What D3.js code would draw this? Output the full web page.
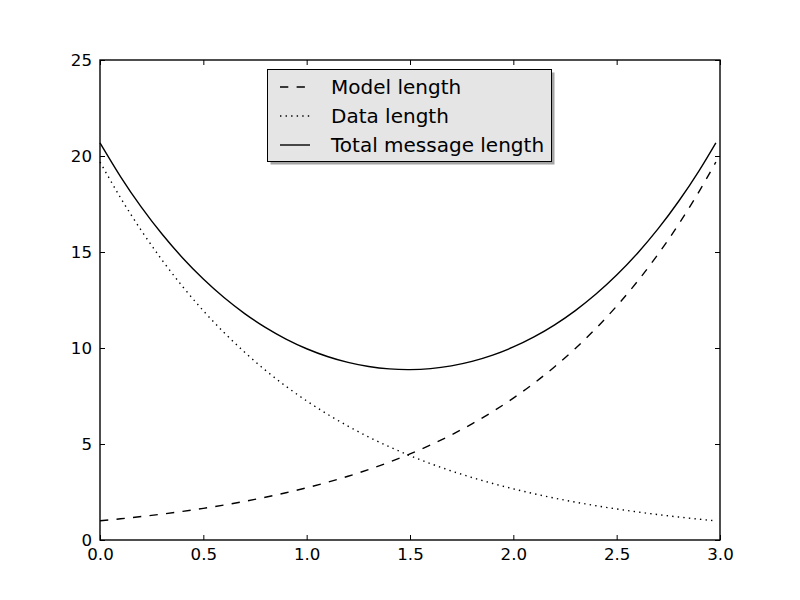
<!DOCTYPE html>
<html>
<head>
<meta charset="utf-8">
<script src="https://cdn.jsdelivr.net/npm/d3@7"></script>
<style>
  html, body { margin: 0; padding: 0; background: #fff; }
  svg { display: block; font-family: "DejaVu Sans", sans-serif; }
</style>
</head>
<body>
<svg id="chart" width="800" height="600"></svg>
<script>
// ---- data ----
const xValues = [0.0, 0.1, 0.2, 0.3, 0.4, 0.5, 0.6, 0.7, 0.8, 0.9, 1.0, 1.1, 1.2, 1.3, 1.4, 1.5,
  1.6, 1.7, 1.8, 1.9, 2.0, 2.1, 2.2, 2.3, 2.4, 2.5, 2.6, 2.7, 2.8, 2.9, 2.98];
const modelLength = [1.000, 1.105, 1.221, 1.350, 1.492, 1.649, 1.822, 2.014, 2.226, 2.460, 2.718,
  3.004, 3.320, 3.669, 4.055, 4.482, 4.953, 5.474, 6.050, 6.686, 7.389, 8.166, 9.025, 9.974,
  11.023, 12.182, 13.464, 14.880, 16.445, 18.174, 19.688];
const dataLength = [19.688, 17.814, 16.119, 14.585, 13.197, 11.941, 10.805, 9.777, 8.846, 8.004,
  7.243, 6.554, 5.930, 5.366, 4.855, 4.393, 3.975, 3.597, 3.254, 2.945, 2.664, 2.411, 2.181,
  1.974, 1.786, 1.616, 1.462, 1.323, 1.197, 1.083, 1.000];
const totalLength = [20.688, 18.919, 17.340, 15.935, 14.689, 13.590, 12.627, 11.791, 11.072,
  10.464, 9.961, 9.558, 9.250, 9.035, 8.910, 8.875, 8.928, 9.071, 9.304, 9.631, 10.053, 10.577,
  11.206, 11.948, 12.809, 13.798, 14.926, 16.203, 17.642, 19.257, 20.688];
const seriesNames = ["Model length", "Data length", "Total message length"];
const xTicks = [0.0, 0.5, 1.0, 1.5, 2.0, 2.5, 3.0];
const yTicks = [0, 5, 10, 15, 20, 25];

// ---- layout ----
const svg = d3.select("#chart");
const mLeft = 100, mRight = 720, mTop = 60, mBottom = 540;
const lineW = 1.39;
const x = d3.scaleLinear().domain([0, 3]).range([mLeft, mRight]);
const y = d3.scaleLinear().domain([0, 25]).range([mBottom, mTop]);

const series = [
  { name: seriesNames[0], values: modelLength, dash: "8.3,8.3" },
  { name: seriesNames[1], values: dataLength, dash: "1.39,4.17" },
  { name: seriesNames[2], values: totalLength, dash: null }
];

const line = d3.line()
  .x((d, i) => x(xValues[i]))
  .y(d => y(d))
  .curve(d3.curveNatural);

const plot = svg.append("g");
series.forEach(s => {
  plot.append("path")
    .attr("d", line(s.values))
    .attr("fill", "none")
    .attr("stroke", "#000")
    .attr("stroke-width", lineW)
    .attr("stroke-dasharray", s.dash);
});

// ---- axes (ticks inside, all four sides) ----
const fmtX = d3.format(".1f");
const axB = svg.append("g").attr("transform", `translate(0,${mBottom})`)
  .call(d3.axisBottom(x).tickValues(xTicks).tickFormat(fmtX).tickSizeInner(-5).tickSizeOuter(0).tickPadding(8));
const axT = svg.append("g").attr("transform", `translate(0,${mTop})`)
  .call(d3.axisTop(x).tickValues(xTicks).tickFormat("").tickSizeInner(-5).tickSizeOuter(0));
const axL = svg.append("g").attr("transform", `translate(${mLeft},0)`)
  .call(d3.axisLeft(y).tickValues(yTicks).tickFormat(d3.format("d")).tickSizeInner(-5).tickSizeOuter(0).tickPadding(8));
const axR = svg.append("g").attr("transform", `translate(${mRight},0)`)
  .call(d3.axisRight(y).tickValues(yTicks).tickFormat("").tickSizeInner(-5).tickSizeOuter(0));

[axB, axT, axL, axR].forEach(a => {
  a.select(".domain").remove();
  a.selectAll("line").attr("stroke", "#000").attr("stroke-width", 1);
  a.selectAll("text").attr("fill", "#000").style("font-size", "16.67px").style("font-family", "'DejaVu Sans', sans-serif");
});

// frame
svg.append("rect")
  .attr("x", mLeft).attr("y", mTop)
  .attr("width", mRight - mLeft).attr("height", mBottom - mTop)
  .attr("fill", "none").attr("stroke", "#000").attr("stroke-width", lineW);

// ---- legend ----
const lx = 267.5, ly = 69.5, lw = 284, lh = 92;
const lg = svg.append("g");
lg.append("rect").attr("x", lx + 3).attr("y", ly + 3).attr("width", lw).attr("height", lh)
  .attr("fill", "#7f7f7f").attr("opacity", 0.7);
lg.append("rect").attr("x", lx).attr("y", ly).attr("width", lw).attr("height", lh)
  .attr("fill", "#e5e5e5").attr("stroke", "#000").attr("stroke-width", 1);
series.forEach((s, i) => {
  const yy = 87 + i * 29;
  lg.append("line").attr("x1", 280).attr("x2", 310).attr("y1", yy).attr("y2", yy)
    .attr("stroke", "#000").attr("stroke-width", lineW).attr("stroke-dasharray", s.dash);
  lg.append("text").attr("x", 331).attr("y", yy).attr("dy", "0.35em")
    .style("font-size", "20px").attr("fill", "#000").text(s.name);
});
</script>
</body>
</html>
